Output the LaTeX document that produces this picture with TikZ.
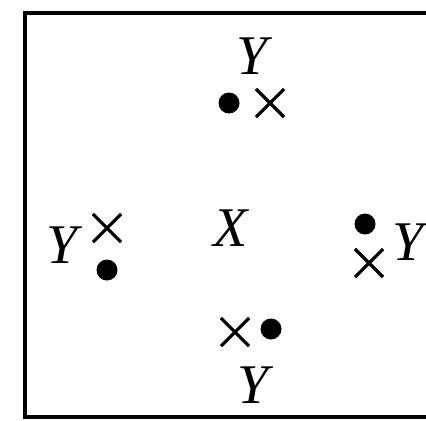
\documentclass[tikz,border=0pt]{standalone}
\usepackage{fontspec}
\setmainfont{Liberation Serif}
\usetikzlibrary{shapes.misc}
\tikzset{
  lbl/.style={font=\fontsize{28}{28}\selectfont\itshape, inner sep=0pt},
  dotmark/.style={circle, fill=black, inner sep=0pt, minimum size=10.5pt},
  crossmark/.style={cross out, draw=black, line width=1.6pt, inner sep=0pt, minimum size=12.5pt}
}
\begin{document}
\begin{tikzpicture}[x=0.5pt, y=-0.5pt]
  \useasboundingbox (0,0) rectangle (426,420);
  \begin{scope}
    \clip (0,0) rectangle (426,420);
    \draw[line width=1.8pt] (25,13) rectangle (450,417);
  \end{scope}
  % centre
  \node[lbl] (x) at (231,228) {X};
  % top group
  \node[lbl] (yt) at (252,56) {Y};
  \node[dotmark] (dt) at (229,103) {};
  \node[crossmark] (ct) at (270,103) {};
  % left group
  \node[lbl] (yl) at (62,245) {Y};
  \node[crossmark] (cl) at (107,228) {};
  \node[dotmark] (dl) at (107,270) {};
  % right group
  \node[dotmark] (dr) at (365,224) {};
  \node[crossmark] (cr) at (369,263) {};
  \node[lbl] (yr) at (408,242) {Y};
  % bottom group
  \node[crossmark] (cb) at (235,332) {};
  \node[dotmark] (db) at (271,329) {};
  \node[lbl] (yb) at (253,385) {Y};
\end{tikzpicture}
\end{document}
